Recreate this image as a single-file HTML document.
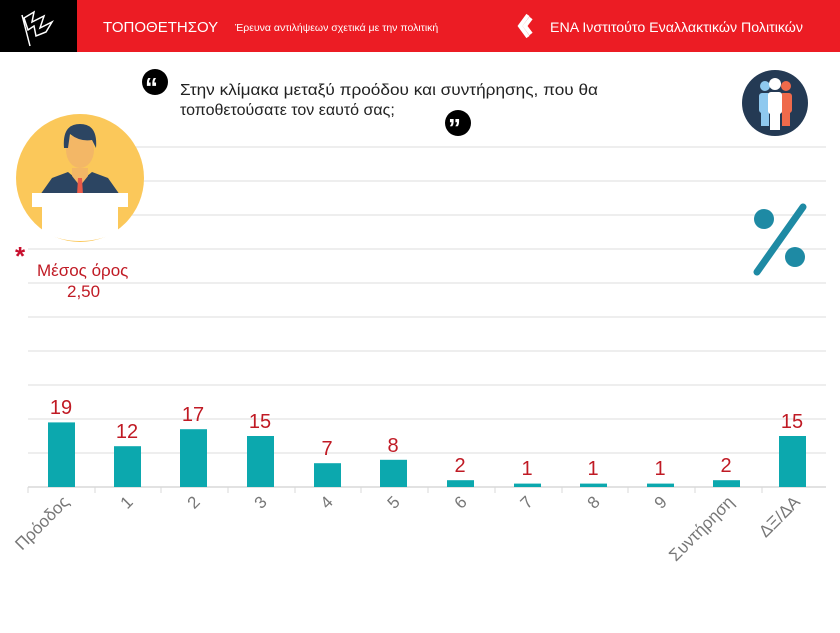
<!DOCTYPE html>
<html><head><meta charset="utf-8"><style>
body{margin:0;width:840px;height:628px;background:#fff;overflow:hidden;font-family:"Liberation Sans","DejaVu Sans",sans-serif}
</style></head><body>
<svg width="840" height="628" xmlns="http://www.w3.org/2000/svg" font-family="Liberation Sans, DejaVu Sans, sans-serif">
<rect x="0" y="0" width="840" height="52" fill="#ec1c24"/>
<rect x="0" y="0" width="77" height="52" fill="#000"/>
<path d="M22 15 L30 46 M24 18 L34 12 L32 22 L44 16 L40 28 L52 22 L46 32 L36 36 L34 26 L28 30 Z" stroke="#fff" stroke-width="1.5" fill="none"/>
<text x="103" y="32" fill="#fff" font-size="15">ΤΟΠΟΘΕΤΗΣΟΥ</text>
<text x="235" y="31" fill="#fff" font-size="10.5">Έρευνα αντιλήψεων σχετικά με την πολιτική</text>
<path d="M528 15 L520 26 L528 37 M531 18 L525 26 L531 34" stroke="#fff" stroke-width="4" fill="none"/>
<text x="550" y="32" fill="#fff" font-size="14.2">ΕΝΑ Ινστιτούτο Εναλλακτικών Πολιτικών</text>
<g stroke="#e4e4e4" stroke-width="1.3">
<line x1="28" x2="826" y1="147" y2="147"/><line x1="28" x2="826" y1="181" y2="181"/><line x1="28" x2="826" y1="215" y2="215"/><line x1="28" x2="826" y1="249" y2="249"/><line x1="28" x2="826" y1="283" y2="283"/><line x1="28" x2="826" y1="317" y2="317"/><line x1="28" x2="826" y1="351" y2="351"/><line x1="28" x2="826" y1="385" y2="385"/><line x1="28" x2="826" y1="419" y2="419"/><line x1="28" x2="826" y1="453" y2="453"/>
</g>
<line x1="28" x2="826" y1="487" y2="487" stroke="#d8d8d8" stroke-width="1.5"/>
<g stroke="#d8d8d8" stroke-width="1">
<line x1="28" x2="28" y1="487" y2="493"/><line x1="95" x2="95" y1="487" y2="493"/><line x1="161" x2="161" y1="487" y2="493"/><line x1="228" x2="228" y1="487" y2="493"/><line x1="295" x2="295" y1="487" y2="493"/><line x1="361" x2="361" y1="487" y2="493"/><line x1="428" x2="428" y1="487" y2="493"/><line x1="495" x2="495" y1="487" y2="493"/><line x1="562" x2="562" y1="487" y2="493"/><line x1="628" x2="628" y1="487" y2="493"/><line x1="695" x2="695" y1="487" y2="493"/><line x1="762" x2="762" y1="487" y2="493"/>
</g>
<circle cx="80" cy="178" r="64" fill="#fbc85a"/>
<path d="M40 195 L52 178 L68 172 L80 182 L92 172 L108 178 L120 195 Z" fill="#2c4562"/>
<path d="M72 168 L88 168 L88 176 L80 186 L72 176 Z" fill="#f3b766"/>
<path d="M78 178 L82 178 L83 195 L77 195 Z" fill="#ea5a48"/>
<ellipse cx="80" cy="150" rx="14" ry="18" fill="#f3b766"/>
<path d="M64 148 Q62 124 80 124 Q98 124 96 148 L92 140 Q80 142 70 134 L68 148 Z" fill="#2c4562"/>
<rect x="32" y="193" width="96" height="14" fill="#fff"/>
<path d="M42 207 L118 207 L118 232 Q80 250 42 232 Z" fill="#fff"/>
<text x="15" y="265" fill="#c8102e" font-size="26" font-weight="bold">*</text>
<text x="37" y="276" fill="#c01a24" font-size="17">Μέσος όρος</text>
<text x="67" y="297" fill="#c01a24" font-size="17">2,50</text>
<circle cx="155" cy="82" r="13" fill="#000"/><text x="145" y="96" fill="#fff" font-size="26" font-weight="bold">“</text>
<circle cx="458" cy="123" r="13" fill="#000"/><text x="448" y="137" fill="#fff" font-size="26" font-weight="bold">”</text>
<text x="180" y="95" fill="#222" font-size="16" textLength="418" lengthAdjust="spacingAndGlyphs">Στην κλίμακα μεταξύ προόδου και συντήρησης, που θα</text>
<text x="180" y="115" fill="#222" font-size="16">τοποθετούσατε τον εαυτό σας;</text>
<circle cx="775" cy="103" r="33" fill="#243a54"/>
<g fill="#8fc9ef"><circle cx="765" cy="86" r="5"/><rect x="759" y="93" width="12" height="20" rx="3"/><rect x="761" y="110" width="8" height="16"/></g>
<g fill="#ef6a4b"><circle cx="786" cy="86" r="5"/><rect x="780" y="93" width="12" height="20" rx="3"/><rect x="782" y="110" width="8" height="16"/></g>
<g fill="#fff"><circle cx="775" cy="84" r="6"/><rect x="768" y="92" width="14" height="22" rx="3"/><rect x="770" y="112" width="10" height="18"/></g>
<circle cx="764" cy="219" r="10" fill="#1e8aa4"/><circle cx="795" cy="257" r="10" fill="#1e8aa4"/>
<line x1="803" y1="207" x2="757" y2="272" stroke="#1e8aa4" stroke-width="7" stroke-linecap="round"/>
<g fill="#0ca8ae">
<rect x="48" y="422.4" width="27" height="64.6"/>
<rect x="114" y="446.2" width="27" height="40.8"/>
<rect x="180" y="429.2" width="27" height="57.8"/>
<rect x="247" y="436" width="27" height="51"/>
<rect x="314" y="463.2" width="27" height="23.8"/>
<rect x="380" y="459.8" width="27" height="27.2"/>
<rect x="447" y="480.2" width="27" height="6.8"/>
<rect x="514" y="483.6" width="27" height="3.4"/>
<rect x="580" y="483.6" width="27" height="3.4"/>
<rect x="647" y="483.6" width="27" height="3.4"/>
<rect x="713" y="480.2" width="27" height="6.8"/>
<rect x="779" y="436" width="27" height="51"/>
</g>
<g fill="#c01a24" font-size="20" text-anchor="middle">
<text x="61" y="414">19</text><text x="127" y="438">12</text><text x="193" y="421">17</text><text x="260" y="428">15</text><text x="327" y="455">7</text><text x="393" y="452">8</text><text x="460" y="472">2</text><text x="527" y="475">1</text><text x="593" y="475">1</text><text x="660" y="475">1</text><text x="726" y="472">2</text><text x="792" y="428">15</text>
</g>
<g fill="#777" font-size="17" text-anchor="end">
<text transform="translate(70,503) rotate(-45)">Πρόοδος</text>
<text transform="translate(134,503) rotate(-45)">1</text>
<text transform="translate(201,503) rotate(-45)">2</text>
<text transform="translate(268,503) rotate(-45)">3</text>
<text transform="translate(334,503) rotate(-45)">4</text>
<text transform="translate(401,503) rotate(-45)">5</text>
<text transform="translate(468,503) rotate(-45)">6</text>
<text transform="translate(534,503) rotate(-45)">7</text>
<text transform="translate(601,503) rotate(-45)">8</text>
<text transform="translate(668,503) rotate(-45)">9</text>
<text transform="translate(735,503) rotate(-45)">Συντήρηση</text>
<text transform="translate(801,503) rotate(-45)">ΔΞ/ΔΑ</text>
</g>
</svg>
</body></html>
